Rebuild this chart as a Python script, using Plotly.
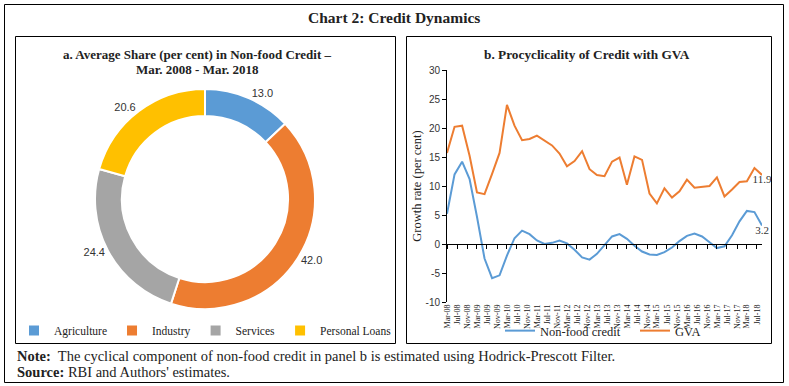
import plotly.graph_objects as go
import pandas as pd

# ---------------- data ----------------
sectors = ["Agriculture", "Industry", "Services", "Personal Loans"]
shares = [13.0, 42.0, 24.4, 20.6]
sector_colors = ["#5B9BD5", "#ED7D31", "#A5A5A5", "#FFC000"]

quarters = pd.date_range("2008-03-01", "2018-09-01", freq="3MS")
nonfood_credit = [5.2, 12.0, 14.2, 11.2, 4.7, -2.5, -5.9, -5.4, -2.0, 1.0,
                  2.3, 1.7, 0.6, 0.0, 0.2, 0.6, 0.1, -1.0, -2.3, -2.7,
                  -1.7, -0.2, 1.3, 1.7, 0.9, -0.3, -1.3, -1.8, -1.9, -1.4,
                  -0.6, 0.5, 1.4, 1.8, 1.3, 0.3, -0.7, -0.4, 1.5, 3.9,
                  5.7, 5.5, 3.2]
gva = [15.7, 20.2, 20.4, 15.2, 8.9, 8.6, 12.1, 15.7, 24.0, 20.4,
       17.9, 18.1, 18.7, 17.8, 17.0, 15.6, 13.4, 14.3, 16.0, 12.9,
       11.9, 11.7, 14.2, 14.9, 10.2, 15.1, 14.5, 8.7, 7.0, 9.6,
       8.0, 9.1, 11.1, 9.7, 9.9, 10.0, 11.5, 8.2, 9.4, 10.7,
       10.8, 13.1, 11.9]
line_names = ["Non-food credit", "GVA"]
line_colors = ["#5B9BD5", "#ED7D31"]
y_ticks = [-10, -5, 0, 5, 10, 15, 20, 25, 30]

# ---------------- layout helpers ----------------
W, H = 789, 386
def px(x):
    return x / W
def py(y):
    return 1 - y / H

SERIF = "Liberation Serif"
SANS = "Liberation Sans"
TXT = "#222222"

fig = go.Figure()

fig.add_trace(go.Pie(
    labels=sectors, values=shares, sort=False, direction="clockwise", rotation=0,
    hole=0.755, marker=dict(colors=sector_colors, line=dict(color="white", width=2)),
    texttemplate="%{value:.1f}", textposition="outside",
    outsidetextfont=dict(family=SANS, size=11, color="#333333"),
    domain=dict(x=[px(95), px(315)], y=[py(309), py(89)]),
    legend="legend", hoverinfo="label+value",
))

for name, vals, col in zip(line_names, [nonfood_credit, gva], line_colors):
    fig.add_trace(go.Scatter(
        x=quarters, y=vals, name=name, mode="lines+text",
        line=dict(color=col, width=2),
        text=[""] * (len(vals) - 1) + [f"{vals[-1]:.1f}"],
        textposition="bottom center",
        textfont=dict(family=SERIF, size=11, color="#333333"),
        legend="legend2", xaxis="x", yaxis="y", cliponaxis=False,
    ))

# invisible trace to carry the zero-line axis with cross ticks
fig.add_trace(go.Scatter(
    x=quarters, y=nonfood_credit, xaxis="x2", yaxis="y", mode="lines",
    line=dict(width=0), opacity=0, showlegend=False, hoverinfo="skip",
))

xr = ["2008-03-01", "2018-09-01"]
fig.update_layout(
    width=W, height=H, margin=dict(l=0, r=0, t=0, b=0, autoexpand=False),
    paper_bgcolor="white", plot_bgcolor="rgba(0,0,0,0)",
    font=dict(family=SERIF, color=TXT),
    xaxis=dict(domain=[px(447), px(762)], anchor="y", type="date", range=xr,
               tick0="2008-03-01", dtick="M4", tickformat="%b-%y", tickangle=-90,
               showline=False, ticks="", showgrid=False, zeroline=False,
               tickfont=dict(family=SERIF, size=8, color=TXT)),
    xaxis2=dict(overlaying="x", anchor="free", position=py(244), type="date", range=xr,
                tick0="2008-03-01", dtick="M4", showticklabels=False,
                showline=True, linecolor="black", linewidth=1,
                ticks="outside", ticklen=4, tickcolor="black", showgrid=False, zeroline=False),
    yaxis=dict(domain=[py(302), py(70)], anchor="x", range=[-10, 30],
               tickmode="array", tickvals=y_ticks, ticktext=[str(v) for v in y_ticks],
               showline=True, linecolor="black", linewidth=1, ticks="outside", ticklen=4,
               tickcolor="black", showgrid=False, zeroline=False,
               tickfont=dict(family=SANS, size=10, color="#333333"),
               title=dict(text="Growth rate (per cent)", standoff=1,
                          font=dict(family=SERIF, size=12.5, color=TXT))),
    legend=dict(orientation="h", x=px(14), y=py(316), xanchor="left", yanchor="top",
                font=dict(family=SERIF, size=11.5, color=TXT), bgcolor="rgba(0,0,0,0)",
                itemclick=False),
    legend2=dict(orientation="h", x=px(500), y=py(316), xanchor="left", yanchor="top",
                 font=dict(family=SERIF, size=12.5, color=TXT), bgcolor="rgba(0,0,0,0)",
                 entrywidth=90, entrywidthmode="pixels", itemclick=False),
    showlegend=True,
)

shapes = [
    dict(type="rect", xref="paper", yref="paper", x0=px(4.5), x1=px(783.5), y0=py(382.5), y1=py(4.5),
         line=dict(color="black", width=1)),
    dict(type="rect", xref="paper", yref="paper", x0=px(15.5), x1=px(395.5), y0=py(343.5), y1=py(36.5),
         line=dict(color="black", width=1)),
    dict(type="rect", xref="paper", yref="paper", x0=px(406.5), x1=px(771.5), y0=py(343.5), y1=py(36.5),
         line=dict(color="black", width=1)),
]
fig.update_layout(shapes=shapes)

ann = [
    dict(text="<b>Chart 2: Credit Dynamics</b>", x=px(394), y=py(17), size=15.5),
    dict(text="<b>a. Average Share (per cent) in Non-food Credit –</b>", x=px(198), y=py(54), size=13),
    dict(text="<b>Mar. 2008 - Mar. 2018</b>", x=px(198), y=py(70), size=13),
    dict(text="<b>b. Procyclicality of Credit with GVA</b>", x=px(587), y=py(54), size=13.3),
]
for a in ann:
    fig.add_annotation(text=a["text"], x=a["x"], y=a["y"], xref="paper", yref="paper",
                       xanchor="center", yanchor="middle", showarrow=False,
                       font=dict(family=SERIF, size=a["size"], color=TXT))

fig.add_annotation(text="<b>Note:</b>  The cyclical component of non-food credit in panel b is estimated using Hodrick-Prescott Filter.",
                   x=px(15), y=py(356), xref="paper", yref="paper", xanchor="left", yanchor="middle",
                   showarrow=False, font=dict(family=SERIF, size=14.5, color=TXT))
fig.add_annotation(text="<b>Source:</b> RBI and Authors' estimates.",
                   x=px(15), y=py(372), xref="paper", yref="paper", xanchor="left", yanchor="middle",
                   showarrow=False, font=dict(family=SERIF, size=14.5, color=TXT))

fig.write_html("out.html", config={"displayModeBar": False},
               post_script="document.body.style.margin='0px';")
